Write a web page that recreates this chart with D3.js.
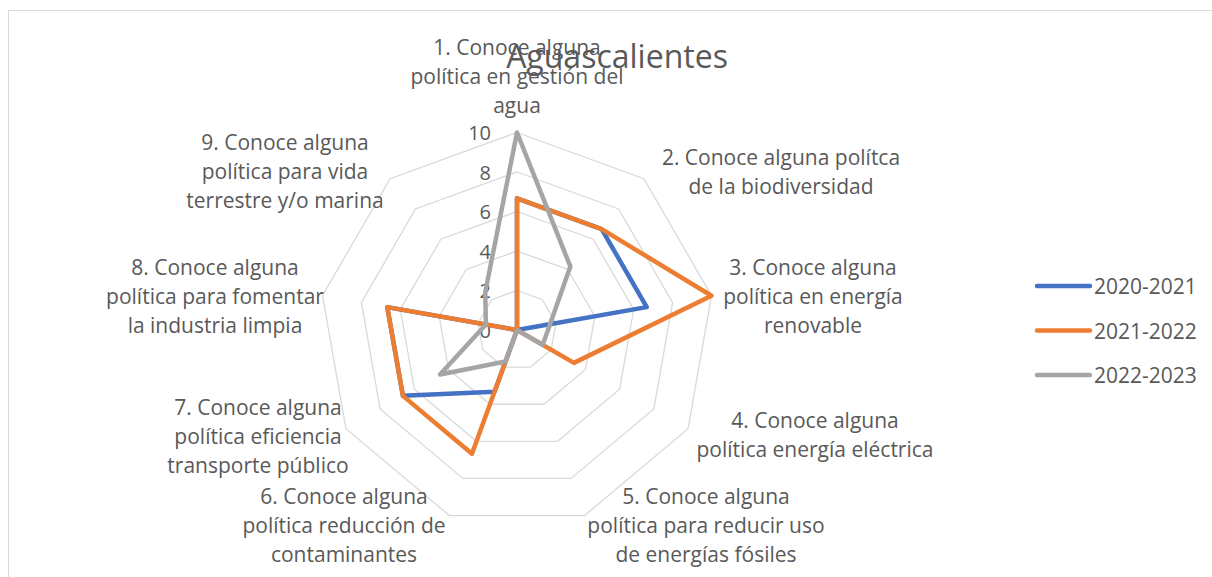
<!DOCTYPE html>
<html><head><meta charset="utf-8">
<script src="https://cdn.jsdelivr.net/npm/d3@7"></script>
<style>
html,body{margin:0;padding:0;background:#fff;}
svg{display:block;}
text{font-family:"Open Sans",Lato,sans-serif;fill:#595959;}
</style></head>
<body>
<svg id="chart" width="1212" height="577"></svg>
<script>
const title = "Aguascalientes";
const categories = [
  ["1. Conoce alguna","política en gestión del","agua"],
  ["2. Conoce alguna polítca","de la biodiversidad"],
  ["3. Conoce alguna","política en energía","renovable"],
  ["4. Conoce alguna","política energía eléctrica"],
  ["5. Conoce alguna","política para reducir uso","de energías fósiles"],
  ["6. Conoce alguna","política reducción de","contaminantes"],
  ["7. Conoce alguna","política eficiencia","transporte público"],
  ["8. Conoce alguna","política para fomentar","la industria limpia"],
  ["9. Conoce alguna","política para vida","terrestre y/o marina"]
];
const seriesNames = ["2020-2021","2021-2022","2022-2023"];
const values2020 = [6.67, 6.67, 6.67, 0, 0, 3.33, 6.67, 6.67, 0];
const values2021 = [6.67, 6.67, 10, 3.33, 0, 6.67, 6.67, 6.67, 0];
const values2022 = [10, 4.2, 1.7, 1.5, 0, 1.7, 4.5, 1.6, 2.5];
const tickValues = [0, 2, 4, 6, 8, 10];
const colors = ["#4472C4", "#ED7D31", "#A5A5A5"];

// layout
const W = 1212, H = 577;
const cx = 517, cy = 330, R = 197.5;
// label block centres (x, y of first line)
const labelPos = [
  [517, 47], [781, 157], [813, 267], [815, 420], [706, 496],
  [344, 496], [258, 407], [215, 267], [285, 142]
];
const lineH = 28.8;

const svg = d3.select("#chart");
svg.append("rect").attr("x", 8.5).attr("y", 10.5).attr("width", W).attr("height", H)
  .attr("fill", "#fff").attr("stroke", "#d9d9d9").attr("stroke-width", 1);

const r = d3.scaleLinear().domain([0, 10]).range([0, R]);
const angle = d3.scaleLinear().domain([0, categories.length]).range([0, 2 * Math.PI]);
const g = svg.append("g").attr("transform", `translate(${cx},${cy})`);

const radial = d3.lineRadial().angle((d, i) => angle(i)).radius(d => r(d)).curve(d3.curveLinearClosed);

// grid rings
tickValues.filter(t => t > 0).forEach(t => {
  g.append("path").attr("d", radial(categories.map(() => t)))
    .attr("fill", "none").attr("stroke", "#d9d9d9").attr("stroke-width", 1.3);
});

// tick labels
g.selectAll("text.tick").data(tickValues).join("text")
  .attr("class", "tick")
  .attr("x", -26).attr("y", d => -r(d))
  .attr("text-anchor", "end").attr("dominant-baseline", "central")
  .style("font-size", "20px").text(d => d);

// series
const allSeries = [values2020, values2021, values2022];
allSeries.forEach((vals, i) => {
  g.append("path").attr("d", radial(vals))
    .attr("fill", "none").attr("stroke", colors[i]).attr("stroke-width", 4.5)
    .attr("stroke-linejoin", "round");
});

// category labels
categories.forEach((lines, i) => {
  const t = svg.append("text").attr("text-anchor", "middle").style("font-size", "21px");
  lines.forEach((ln, j) => {
    t.append("tspan").attr("x", labelPos[i][0]).attr("y", labelPos[i][1] + j * lineH)
      .attr("dominant-baseline", "central").text(ln);
  });
});

// title
svg.append("text").attr("x", 617).attr("y", 55).attr("text-anchor", "middle")
  .attr("dominant-baseline", "central").style("font-size", "32px").text(title);

// legend
const leg = svg.append("g");
seriesNames.forEach((n, i) => {
  const y = 286 + i * 44.5;
  leg.append("line").attr("x1", 1037).attr("x2", 1090).attr("y1", y).attr("y2", y)
    .attr("stroke", colors[i]).attr("stroke-width", 4.5).attr("stroke-linecap", "round");
  leg.append("text").attr("x", 1094).attr("y", y).attr("dominant-baseline", "central")
    .style("font-size", "21px").text(n);
});
</script>
</body></html>
